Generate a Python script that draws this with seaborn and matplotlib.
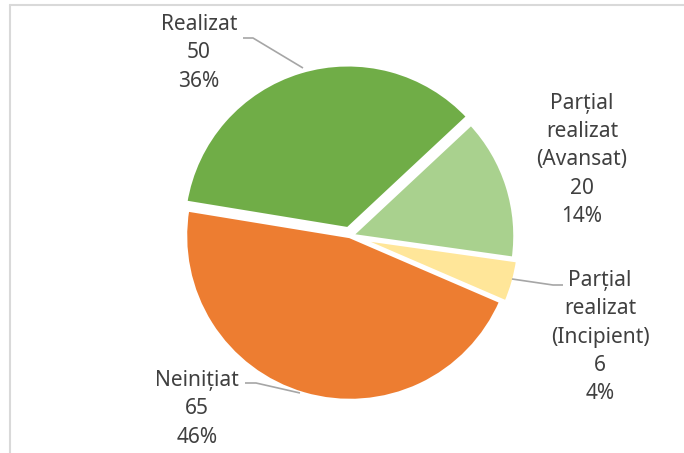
import matplotlib
matplotlib.use("Agg")
import matplotlib.pyplot as plt
import seaborn as sns
from matplotlib.lines import Line2D

categories = ["Realizat", "Parțial\nrealizat\n(Avansat)", "Parțial\nrealizat\n(Incipient)", "Neinițiat"]
values = [50, 20, 6, 65]
pct_labels = ["36%", "14%", "4%", "46%"]
colors = ["#70AD47", "#A9D18E", "#FFE699", "#ED7D31"]

sns.set_theme(style="white")
plt.rcParams['font.family'] = ['Noto Sans', 'DejaVu Sans']

W, H = 684, 453
fig = plt.figure(figsize=(W / 100, H / 100), dpi=100)
ax = fig.add_axes([0, 0, 1, 1])
ax.set_xlim(0, W)
ax.set_ylim(0, H)
ax.set_aspect("equal")
ax.axis("off")

def py(y):
    return H - y

wedges, _ = ax.pie(values, colors=colors, startangle=170.7, counterclock=False,
                   center=(350, py(236)), radius=165,
                   explode=[7, 0.5, 5, 0],
                   wedgeprops=dict(edgecolor="white", linewidth=3.2))

ax.set_xlim(0, W)
ax.set_ylim(0, H)

txt_color = "#404040"
fs = 15
label_pos = [(199, 53), (582, 160), (600, 337), (197, 409)]
for cat, v, p, (x, y) in zip(categories, values, pct_labels, label_pos):
    ax.text(x, py(y), f"{cat}\n{v}\n{p}", ha="center", va="center",
            fontsize=fs, color=txt_color, linespacing=1.45)

lc = "#A6A6A6"
leaders = [
    [(243, 38), (253, 38), (303, 68)],
    [(563, 285), (553, 285), (512, 279)],
    [(245, 383), (256, 383), (300, 393)],
]
for pts in leaders:
    xs = [p[0] for p in pts]
    ys = [py(p[1]) for p in pts]
    ax.plot(xs, ys, color=lc, linewidth=1.2, solid_capstyle="butt")

# chart frame
fig.add_artist(Line2D([10 / W, 1], [1 - 4.5 / H, 1 - 4.5 / H], color="#D9D9D9", linewidth=1.5))
fig.add_artist(Line2D([10 / W, 10 / W], [0, 1 - 4.5 / H], color="#D9D9D9", linewidth=1.5))

fig.savefig("out.png", dpi=100)
